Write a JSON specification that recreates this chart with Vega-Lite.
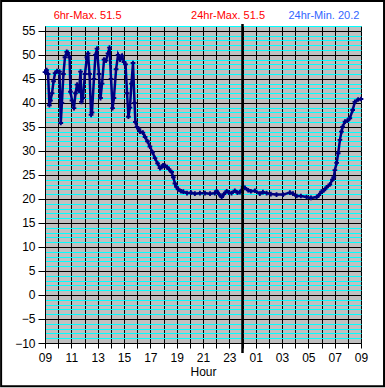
{
 "$schema": "https://vega.github.io/schema/vega-lite/v6.json",
 "autosize": {"type": "none"},
 "padding": {"left": 45, "top": 26, "right": 24, "bottom": 45},
 "width": 316,
 "height": 317,
 "background": "white",
 "config": {"view": {"fill": "#C0C0C0", "stroke": "#808080"}, "font": "Liberation Sans"},
 "resolve": {"axis": {"y": "independent"}},
 "data": {"values": [
  {"t": "2024-01-01T09:00", "v": 46.4}, {"t": "2024-01-01T09:07", "v": 46.8}, {"t": "2024-01-01T09:14", "v": 46.0},
  {"t": "2024-01-01T09:20", "v": 39.5}, {"t": "2024-01-01T09:25", "v": 40.5}, {"t": "2024-01-01T09:32", "v": 42},
  {"t": "2024-01-01T09:39", "v": 44.5}, {"t": "2024-01-01T09:46", "v": 46.2}, {"t": "2024-01-01T09:55", "v": 46.6},
  {"t": "2024-01-01T10:06", "v": 46.5}, {"t": "2024-01-01T10:12", "v": 35.8}, {"t": "2024-01-01T10:17", "v": 40},
  {"t": "2024-01-01T10:24", "v": 46}, {"t": "2024-01-01T10:31", "v": 49.5}, {"t": "2024-01-01T10:39", "v": 50.6},
  {"t": "2024-01-01T10:45", "v": 50.4}, {"t": "2024-01-01T10:52", "v": 49.5}, {"t": "2024-01-01T10:56", "v": 42.3},
  {"t": "2024-01-01T11:03", "v": 40.5}, {"t": "2024-01-01T11:12", "v": 38.9}, {"t": "2024-01-01T11:19", "v": 42},
  {"t": "2024-01-01T11:26", "v": 43.8}, {"t": "2024-01-01T11:35", "v": 42.5}, {"t": "2024-01-01T11:42", "v": 46.5},
  {"t": "2024-01-01T11:46", "v": 40.2}, {"t": "2024-01-01T11:53", "v": 41}, {"t": "2024-01-01T12:02", "v": 46},
  {"t": "2024-01-01T12:11", "v": 49.5}, {"t": "2024-01-01T12:16", "v": 50.3}, {"t": "2024-01-01T12:23", "v": 46},
  {"t": "2024-01-01T12:30", "v": 37.5}, {"t": "2024-01-01T12:34", "v": 38}, {"t": "2024-01-01T12:43", "v": 45},
  {"t": "2024-01-01T12:50", "v": 50}, {"t": "2024-01-01T12:57", "v": 51.3}, {"t": "2024-01-01T13:06", "v": 46},
  {"t": "2024-01-01T13:13", "v": 41}, {"t": "2024-01-01T13:20", "v": 44}, {"t": "2024-01-01T13:29", "v": 49},
  {"t": "2024-01-01T13:38", "v": 48.8}, {"t": "2024-01-01T13:47", "v": 50.3}, {"t": "2024-01-01T13:54", "v": 51.5},
  {"t": "2024-01-01T14:01", "v": 45}, {"t": "2024-01-01T14:08", "v": 38.9}, {"t": "2024-01-01T14:14", "v": 41},
  {"t": "2024-01-01T14:24", "v": 47}, {"t": "2024-01-01T14:33", "v": 50}, {"t": "2024-01-01T14:42", "v": 49},
  {"t": "2024-01-01T14:51", "v": 49.8}, {"t": "2024-01-01T15:00", "v": 48.5}, {"t": "2024-01-01T15:07", "v": 48},
  {"t": "2024-01-01T15:14", "v": 42}, {"t": "2024-01-01T15:20", "v": 37.1}, {"t": "2024-01-01T15:27", "v": 39},
  {"t": "2024-01-01T15:34", "v": 44}, {"t": "2024-01-01T15:41", "v": 48.3}, {"t": "2024-01-01T15:48", "v": 40},
  {"t": "2024-01-01T15:52", "v": 36}, {"t": "2024-01-01T15:59", "v": 35}, {"t": "2024-01-01T16:08", "v": 34.5},
  {"t": "2024-01-01T16:13", "v": 34}, {"t": "2024-01-01T16:26", "v": 33.8}, {"t": "2024-01-01T16:36", "v": 32.9},
  {"t": "2024-01-01T16:47", "v": 32}, {"t": "2024-01-01T16:58", "v": 30.9}, {"t": "2024-01-01T17:10", "v": 29.7},
  {"t": "2024-01-01T17:21", "v": 28.5}, {"t": "2024-01-01T17:33", "v": 27.4}, {"t": "2024-01-01T17:44", "v": 26.4},
  {"t": "2024-01-01T17:51", "v": 26.6}, {"t": "2024-01-01T17:58", "v": 27}, {"t": "2024-01-01T18:07", "v": 26.9},
  {"t": "2024-01-01T18:16", "v": 26.6}, {"t": "2024-01-01T18:25", "v": 26.2}, {"t": "2024-01-01T18:37", "v": 25.6},
  {"t": "2024-01-01T18:45", "v": 24.5}, {"t": "2024-01-01T18:52", "v": 23.2}, {"t": "2024-01-01T18:59", "v": 22.5},
  {"t": "2024-01-01T19:07", "v": 22}, {"t": "2024-01-01T19:20", "v": 21.6}, {"t": "2024-01-01T19:30", "v": 21.5},
  {"t": "2024-01-01T19:47", "v": 21.2}, {"t": "2024-01-01T20:05", "v": 21.3}, {"t": "2024-01-01T20:23", "v": 21.1},
  {"t": "2024-01-01T20:46", "v": 21.2}, {"t": "2024-01-01T21:09", "v": 21.2}, {"t": "2024-01-01T21:32", "v": 21.1},
  {"t": "2024-01-01T21:54", "v": 21.2}, {"t": "2024-01-01T22:02", "v": 21.6}, {"t": "2024-01-01T22:13", "v": 21.0},
  {"t": "2024-01-01T22:25", "v": 20.4}, {"t": "2024-01-01T22:35", "v": 21.0}, {"t": "2024-01-01T22:48", "v": 21.6},
  {"t": "2024-01-01T22:58", "v": 21.3}, {"t": "2024-01-01T23:10", "v": 21.2}, {"t": "2024-01-01T23:25", "v": 21.7},
  {"t": "2024-01-01T23:37", "v": 21.3}, {"t": "2024-01-01T23:48", "v": 21.4}, {"t": "2024-01-02T00:03", "v": 22.5},
  {"t": "2024-01-02T00:11", "v": 22.3}, {"t": "2024-01-02T00:26", "v": 21.8}, {"t": "2024-01-02T00:38", "v": 21.6},
  {"t": "2024-01-02T00:57", "v": 21.7}, {"t": "2024-01-02T01:19", "v": 21.1}, {"t": "2024-01-02T01:33", "v": 21.4},
  {"t": "2024-01-02T01:50", "v": 21.2}, {"t": "2024-01-02T02:09", "v": 21.0}, {"t": "2024-01-02T02:35", "v": 20.9},
  {"t": "2024-01-02T03:05", "v": 20.9}, {"t": "2024-01-02T03:36", "v": 21.3}, {"t": "2024-01-02T03:50", "v": 21.1},
  {"t": "2024-01-02T04:07", "v": 20.6}, {"t": "2024-01-02T04:26", "v": 20.6}, {"t": "2024-01-02T04:52", "v": 20.4},
  {"t": "2024-01-02T05:12", "v": 20.2}, {"t": "2024-01-02T05:38", "v": 20.4}, {"t": "2024-01-02T05:48", "v": 20.8},
  {"t": "2024-01-02T06:00", "v": 21.5}, {"t": "2024-01-02T06:11", "v": 21.8}, {"t": "2024-01-02T06:23", "v": 22.4},
  {"t": "2024-01-02T06:38", "v": 23.0}, {"t": "2024-01-02T06:50", "v": 24.0}, {"t": "2024-01-02T06:56", "v": 24.5},
  {"t": "2024-01-02T07:01", "v": 26}, {"t": "2024-01-02T07:09", "v": 27.5}, {"t": "2024-01-02T07:16", "v": 29.5},
  {"t": "2024-01-02T07:24", "v": 32.3}, {"t": "2024-01-02T07:31", "v": 34}, {"t": "2024-01-02T07:36", "v": 35},
  {"t": "2024-01-02T07:47", "v": 36.1}, {"t": "2024-01-02T07:58", "v": 36.3}, {"t": "2024-01-02T08:09", "v": 36.8},
  {"t": "2024-01-02T08:22", "v": 38.5}, {"t": "2024-01-02T08:32", "v": 40.2}, {"t": "2024-01-02T08:47", "v": 40.7},
  {"t": "2024-01-02T09:00", "v": 40.8}
 ]},
 "layer": [
  {
   "mark": {"type": "line", "color": "#000080", "strokeWidth": 2.5},
   "encoding": {
    "x": {"field": "t", "type": "temporal",
     "scale": {"domain": [{"year": 2024, "month": 1, "date": 1, "hours": 9}, {"year": 2024, "month": 1, "date": 2, "hours": 9}]},
     "axis": {"title": "Hour", "tickCount": 24, "format": "%H",
      "labelFlush": false, "labelOverlap": "parity", "labelSeparation": 2,
      "grid": true, "gridColor": "black", "gridOpacity": 1, "gridWidth": 1,
      "domainColor": "black", "tickColor": "black", "tickSize": 5, "labelPadding": 4,
      "labelFontSize": 12, "labelColor": "black",
      "titleFontSize": 12, "titleFontWeight": "normal", "titleColor": "black", "titlePadding": 3}},
    "y": {"field": "v", "type": "quantitative",
     "scale": {"domain": [-10, 56], "nice": false, "zero": false},
     "axis": {"title": null, "orient": "right", "tickCount": 66, "grid": true, "gridColor": "#00FFFF", "gridOpacity": 1,
      "labels": false, "ticks": false, "domain": false}}
   }
  },
  {
   "mark": {"type": "point", "shape": "cross", "filled": true, "color": "#000080", "size": 22, "opacity": 1},
   "encoding": {
    "x": {"field": "t", "type": "temporal"},
    "y": {"field": "v", "type": "quantitative",
     "axis": {"title": null, "orient": "left", "tickCount": 13, "grid": true, "gridColor": "black", "gridOpacity": 1,
      "labelOverlap": false, "tickColor": "black", "tickSize": 7, "labelPadding": 3, "domainColor": "black",
      "labelFontSize": 12, "labelColor": "black"}}
   }
  },
  {
   "data": {"values": [{"what": "midnight"}]},
   "mark": {"type": "rule", "color": "black", "strokeWidth": 2.5},
   "encoding": {"x": {"datum": {"year": 2024, "month": 1, "date": 2, "hours": 0}, "type": "temporal"}, "y": {"datum": 56.4, "axis": null}, "y2": {"datum": -12.1}}
  },
  {
   "data": {"values": [{"label": "6hr-Max. 51.5"}]},
   "mark": {"type": "text", "color": "#FF0000", "fontSize": 11, "baseline": "middle", "align": "center"},
   "encoding": {"x": {"datum": {"year": 2024, "month": 1, "date": 1, "hours": 12, "minutes": 14}, "type": "temporal"}, "y": {"datum": 58.15, "axis": null}, "text": {"field": "label"}}
  },
  {
   "data": {"values": [{"label": "24hr-Max. 51.5"}]},
   "mark": {"type": "text", "color": "#FF0000", "fontSize": 11, "baseline": "middle", "align": "center"},
   "encoding": {"x": {"datum": {"year": 2024, "month": 1, "date": 1, "hours": 22, "minutes": 54}, "type": "temporal"}, "y": {"datum": 58.15, "axis": null}, "text": {"field": "label"}}
  },
  {
   "data": {"values": [{"label": "24hr-Min. 20.2"}]},
   "mark": {"type": "text", "color": "#3366FF", "fontSize": 11, "baseline": "middle", "align": "center"},
   "encoding": {"x": {"datum": {"year": 2024, "month": 1, "date": 2, "hours": 6, "minutes": 11}, "type": "temporal"}, "y": {"datum": 58.15, "axis": null}, "text": {"field": "label"}}
  },
  {
   "data": {"values": [{"what": "frame"}]},
   "mark": {"type": "rect", "fill": "transparent", "stroke": "black", "strokeWidth": 2},
   "encoding": {"x": {"datum": {"year": 2024, "month": 1, "date": 1, "hours": 5, "minutes": 40}, "type": "temporal"}, "x2": {"datum": {"year": 2024, "month": 1, "date": 2, "hours": 10, "minutes": 45}}, "y": {"datum": 61.2, "axis": null}, "y2": {"datum": -19}}
  }
 ]
}
